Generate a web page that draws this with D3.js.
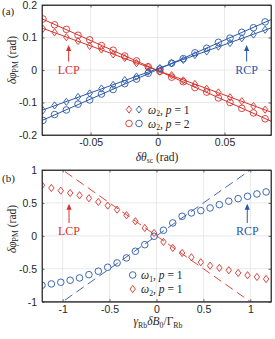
<!DOCTYPE html>
<html><head><meta charset="utf-8">
<script src="https://cdn.jsdelivr.net/npm/d3@7"></script>
<style>body{margin:0;background:#fff}svg{display:block}</style>
</head><body><svg id="c" width="275" height="339"></svg>
<script>
// ---------- Panel (a) data ----------
const thetaA = [-0.0856,-0.0769,-0.0681,-0.0594,-0.0507,-0.0419,-0.0332,-0.0245,-0.0157,-0.0070,
                0.0017,0.0105,0.0192,0.0279,0.0367,0.0454,0.0541,0.0629,0.0716,0.0803];
const redDiamA  = [0.127,0.116,0.101,0.089,0.074,0.063,0.048,0.037,0.021,0.010,
                   -0.005,-0.016,-0.032,-0.043,-0.058,-0.069,-0.084,-0.096,-0.111,-0.122];
const blueDiamA = [-0.124,-0.109,-0.098,-0.083,-0.072,-0.057,-0.046,-0.031,-0.020,-0.005,
                   0.006,0.021,0.031,0.046,0.057,0.072,0.083,0.098,0.109,0.124];
const redCircA  = [0.157,0.139,0.125,0.107,0.093,0.075,0.061,0.043,0.028,0.010,
                   -0.004,-0.022,-0.036,-0.054,-0.068,-0.086,-0.100,-0.118,-0.132,-0.150];
const blueCircA = [-0.155,-0.137,-0.123,-0.105,-0.092,-0.074,-0.060,-0.042,-0.028,-0.010,
                   0.003,0.021,0.035,0.053,0.067,0.085,0.098,0.116,0.130,0.148];
const xDomainA = [-0.0863, 0.0847];
const yDomainA = [-0.2, 0.2];
const xTicksA = [-0.05, 0, 0.05];
const yTicksA = [-0.2, -0.1, 0, 0.1, 0.2];

// ---------- Panel (b) data ----------
const fieldB = [-1.22,-1.12,-1.02,-0.92,-0.82,-0.72,-0.62,-0.52,-0.42,-0.32,-0.225,-0.125,-0.026,
                0.074,0.173,0.273,0.372,0.472,0.571,0.67,0.77,0.87,0.97,1.07,1.168];
const blueCircB = [-0.750,-0.730,-0.705,-0.674,-0.639,-0.589,-0.537,-0.477,-0.411,-0.335,-0.234,-0.134,-0.006,
                   0.085,0.196,0.298,0.348,0.383,0.424,0.474,0.526,0.565,0.601,0.636,0.667];
const redDiamB  = [0.768,0.727,0.686,0.651,0.617,0.571,0.515,0.459,0.398,0.313,0.222,0.120,0.044,
                   -0.092,-0.184,-0.260,-0.325,-0.401,-0.453,-0.487,-0.522,-0.563,-0.598,-0.624,-0.655];
const theoryX    = [-1.22, 1.22];
const theoryBlue = [-1.22, 1.22];
const theoryRed  = [1.22, -1.22];
const xDomainB = [-1.22, 1.22];
const yDomainB = [-1, 1];
const xTicksB = [-1, -0.5, 0, 0.5, 1];
const yTicksB = [-1, -0.5, 0, 0.5, 1];

// annotation anchors (data units): [x, arrowTop, arrowBottom, textBaseline]
const annA = {LCP: [-0.0664, 0.077, 0.026, -0.012], RCP: [0.0665, 0.077, 0.026, -0.012]};
const annB = {LCP: [-0.932, 0.489, 0.196, 0.018], RCP: [0.967, 0.489, 0.196, 0.018]};

const RED = "#d5322c", BLUE = "#2a58a6", AX = "#262626", GRID = "#e3e3e3";
const SANS = "'Liberation Sans', Arial, sans-serif";
const SERIF = "'Liberation Serif', 'Times New Roman', serif";
const svg = d3.select("#c");

function diamondPath(cx, cy){ const w=2.7, h=3.6; return `M${cx},${cy-h}L${cx+w},${cy}L${cx},${cy+h}L${cx-w},${cy}Z`; }

function richText(g, x, y, parts, opts){
  const t = g.append("text").attr("x", x).attr("y", y)
    .attr("font-family", SERIF).attr("font-size", opts.size).attr("fill", opts.fill || AX)
    .attr("text-anchor", opts.anchor || "start");
  if (opts.rotate) t.attr("transform", `rotate(-90,${x},${y})`);
  let shift = 0;
  parts.forEach(p => {
    const s = t.append("tspan").text(p.t);
    if (p.i) s.attr("font-style", "italic");
    const target = p.sub ? 2.5 : 0;
    if (target !== shift) { s.attr("dy", target - shift); shift = target; }
    if (p.sub) s.attr("font-size", opts.size * 0.68);
  });
  return t;
}

function panel(cfg){
  const x = d3.scaleLinear().domain(cfg.xDomain).range([42, 271]);
  const y = d3.scaleLinear().domain(cfg.yDomain).range([cfg.bottom, cfg.top]);
  const g = svg.append("g");
  const cid = "clip" + cfg.id;
  svg.append("clipPath").attr("id", cid).append("rect")
    .attr("x", 42).attr("y", cfg.top).attr("width", 229).attr("height", cfg.bottom - cfg.top);
  // grid
  g.append("g").selectAll("line").data(cfg.xTicks).join("line")
    .attr("x1", d => x(d)).attr("x2", d => x(d)).attr("y1", cfg.top).attr("y2", cfg.bottom)
    .attr("stroke", GRID).attr("stroke-width", 0.8);
  g.append("g").selectAll("line").data(cfg.yTicks).join("line")
    .attr("y1", d => y(d)).attr("y2", d => y(d)).attr("x1", 42).attr("x2", 271)
    .attr("stroke", GRID).attr("stroke-width", 0.8);
  const plot = g.append("g").attr("clip-path", `url(#${cid})`);
  cfg.draw(plot, x, y);
  // axes
  const fmt = d => String(d);
  const ax = [
    g.append("g").attr("transform", `translate(0,${cfg.bottom})`).call(d3.axisBottom(x).tickValues(cfg.xTicks).tickFormat(fmt).tickSizeInner(-2.5).tickSizeOuter(0).tickPadding(4)),
    g.append("g").attr("transform", `translate(0,${cfg.top})`).call(d3.axisTop(x).tickValues(cfg.xTicks).tickFormat("").tickSizeInner(-2.5).tickSizeOuter(0)),
    g.append("g").attr("transform", `translate(42,0)`).call(d3.axisLeft(y).tickValues(cfg.yTicks).tickFormat(fmt).tickSizeInner(-2.5).tickSizeOuter(0).tickPadding(5)),
    g.append("g").attr("transform", `translate(271,0)`).call(d3.axisRight(y).tickValues(cfg.yTicks).tickFormat("").tickSizeInner(-2.5).tickSizeOuter(0))
  ];
  ax.forEach(a => {
    a.select(".domain").attr("stroke", AX).attr("stroke-width", 0.8);
    a.selectAll(".tick line").attr("stroke", AX).attr("stroke-width", 0.7);
    a.selectAll(".tick text").attr("fill", AX).attr("font-family", SANS).attr("font-size", 10.5);
  });
  // box
  g.append("rect").attr("x", 42).attr("y", cfg.top).attr("width", 229).attr("height", cfg.bottom - cfg.top)
    .attr("fill", "none").attr("stroke", AX).attr("stroke-width", 0.8);
  // annotations
  Object.entries(cfg.ann).forEach(([lab, a]) => {
    const col = lab === "LCP" ? RED : BLUE;
    const ax0 = x(a[0]), yt = y(a[1]), yb = y(a[2]);
    g.append("line").attr("x1", ax0).attr("x2", ax0).attr("y1", yt + 5).attr("y2", yb)
      .attr("stroke", col).attr("stroke-width", 1);
    g.append("path").attr("d", `M${ax0},${yt}L${ax0+2.6},${yt+6}L${ax0-2.6},${yt+6}Z`).attr("fill", col);
    g.append("text").attr("x", ax0).attr("y", y(a[3])).attr("text-anchor", "middle")
      .attr("font-family", SERIF).attr("font-size", 12).attr("fill", col).text(lab);
  });
  return {g, x, y};
}

// ---------- Panel (a) ----------
const pa = panel({id: "a", xDomain: xDomainA, yDomain: yDomainA, xTicks: xTicksA, yTicks: yTicksA,
  top: 5, bottom: 135, ann: annA,
  draw(plot, x, y){
    const series = [
      {v: redCircA, c: RED, m: "o"}, {v: redDiamA, c: RED, m: "d"},
      {v: blueCircA, c: BLUE, m: "o"}, {v: blueDiamA, c: BLUE, m: "d"}
    ];
    series.forEach(s => {
      const mx = d3.mean(thetaA), my = d3.mean(s.v);
      let num = 0, den = 0;
      thetaA.forEach((t, i) => { num += (t - mx) * (s.v[i] - my); den += (t - mx) * (t - mx); });
      const k = num / den, b = my - k * mx;
      plot.append("line").attr("x1", x(xDomainA[0])).attr("x2", x(xDomainA[1]))
        .attr("y1", y(b + k * xDomainA[0])).attr("y2", y(b + k * xDomainA[1]))
        .attr("stroke", s.c).attr("stroke-width", 1);
    });
    series.forEach(s => {
      const pts = thetaA.map((t, i) => [x(t), y(s.v[i])]);
      if (s.m === "o") plot.append("g").selectAll("circle").data(pts).join("circle")
        .attr("cx", d => d[0]).attr("cy", d => d[1]).attr("r", 3.3)
        .attr("fill", "none").attr("stroke", s.c).attr("stroke-width", 0.9);
      else plot.append("g").selectAll("path").data(pts).join("path")
        .attr("d", d => diamondPath(d[0], d[1]))
        .attr("fill", "none").attr("stroke", s.c).attr("stroke-width", 0.9);
    });
  }});
// legend (a)
{
  const g = pa.g;
  g.append("path").attr("d", diamondPath(129, 109.5)).attr("fill", "none").attr("stroke", RED).attr("stroke-width", 0.9);
  g.append("path").attr("d", diamondPath(139, 109.5)).attr("fill", "none").attr("stroke", BLUE).attr("stroke-width", 0.9);
  g.append("circle").attr("cx", 129).attr("cy", 123.5).attr("r", 3.3).attr("fill", "none").attr("stroke", RED).attr("stroke-width", 0.9);
  g.append("circle").attr("cx", 139).attr("cy", 123.5).attr("r", 3.3).attr("fill", "none").attr("stroke", BLUE).attr("stroke-width", 0.9);
  richText(g, 148, 113.5, [{t:"ω", i:1},{t:"2", sub:1},{t:", "},{t:"p", i:1},{t:" = 1"}], {size: 11.5});
  richText(g, 148, 127.5, [{t:"ω", i:1},{t:"2", sub:1},{t:", "},{t:"p", i:1},{t:" = 2"}], {size: 11.5});
}

// ---------- Panel (b) ----------
const pb = panel({id: "b", xDomain: xDomainB, yDomain: yDomainB, xTicks: xTicksB, yTicks: yTicksB,
  top: 170, bottom: 301.7, ann: annB,
  draw(plot, x, y){
    const line = d3.line().x(d => x(d[0])).y(d => y(d[1]));
    plot.append("path").attr("d", line(theoryX.map((t, i) => [t, theoryBlue[i]])))
      .attr("fill", "none").attr("stroke", BLUE).attr("stroke-width", 0.9).attr("stroke-dasharray", "9,5");
    plot.append("path").attr("d", line(theoryX.map((t, i) => [t, theoryRed[i]])))
      .attr("fill", "none").attr("stroke", RED).attr("stroke-width", 0.9).attr("stroke-dasharray", "9,5");
    plot.append("g").selectAll("circle").data(fieldB).join("circle")
      .attr("cx", d => x(d)).attr("cy", (d, i) => y(blueCircB[i])).attr("r", 3.3)
      .attr("fill", "none").attr("stroke", BLUE).attr("stroke-width", 0.9);
    plot.append("g").selectAll("path").data(fieldB).join("path")
      .attr("d", (d, i) => diamondPath(x(d), y(redDiamB[i])))
      .attr("fill", "none").attr("stroke", RED).attr("stroke-width", 0.9);
  }});
{
  const g = pb.g;
  g.append("circle").attr("cx", 132.7).attr("cy", 275).attr("r", 3.3).attr("fill", "none").attr("stroke", BLUE).attr("stroke-width", 0.9);
  g.append("path").attr("d", diamondPath(132.7, 289)).attr("fill", "none").attr("stroke", RED).attr("stroke-width", 0.9);
  richText(g, 141, 279, [{t:"ω", i:1},{t:"1", sub:1},{t:", "},{t:"p", i:1},{t:" = 1"}], {size: 11.5});
  richText(g, 141, 293, [{t:"ω", i:1},{t:"2", sub:1},{t:", "},{t:"p", i:1},{t:" = 1"}], {size: 11.5});
}

// axis labels
richText(svg, 157, 160.5, [{t:"δθ", i:1},{t:"sc", sub:1},{t:" (rad)"}], {size: 11.5, anchor: "middle"});
richText(svg, 158, 325, [{t:"γ", i:1},{t:"Rb", sub:1},{t:"δB", i:1},{t:"0", sub:1},{t:"/Γ"},{t:"Rb", sub:1}], {size: 11.5, anchor: "middle"});
richText(svg, 15.5, 60, [{t:"δφ", i:1},{t:"PM", sub:1},{t:" (rad)"}], {size: 11.5, anchor: "middle", rotate: true});
richText(svg, 15.5, 229, [{t:"δφ", i:1},{t:"PM", sub:1},{t:" (rad)"}], {size: 11.5, anchor: "middle", rotate: true});
// panel tags
svg.append("text").attr("x", 2).attr("y", 15).attr("font-family", SERIF).attr("font-size", 11).attr("fill", AX).text("(a)");
svg.append("text").attr("x", 2).attr("y", 182).attr("font-family", SERIF).attr("font-size", 11).attr("fill", AX).text("(b)");
</script></body></html>
